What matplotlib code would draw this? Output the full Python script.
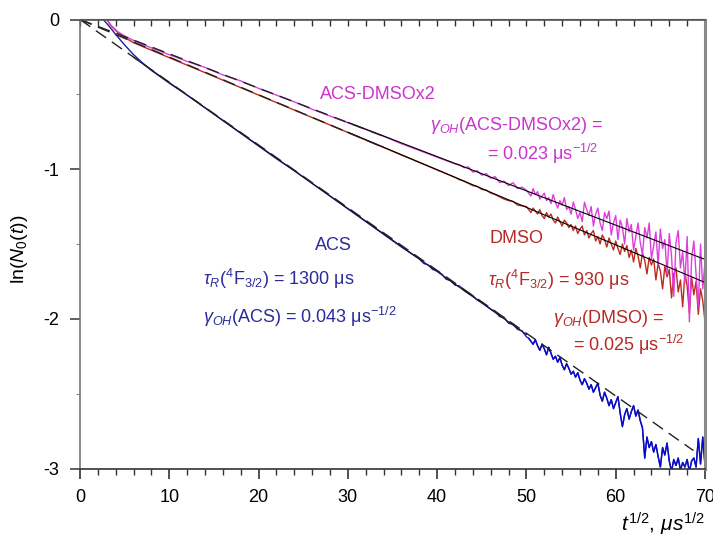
import matplotlib
matplotlib.use('Agg')
import matplotlib.pyplot as plt
import numpy as np
from matplotlib.ticker import MultipleLocator

plt.rcParams['font.family'] = ['Liberation Sans', 'DejaVu Sans']
plt.rcParams['mathtext.fontset'] = 'custom'
plt.rcParams['mathtext.rm'] = 'Liberation Sans'
plt.rcParams['mathtext.it'] = 'Liberation Sans:italic'
plt.rcParams['mathtext.bf'] = 'Liberation Sans:bold'
plt.rcParams['axes.unicode_minus'] = False

# ACS (blue) - smooth part read every few units, then noisy tail
acs_t = [2.6, 3.2, 4.0, 5.0, 6.0, 7.0, 8.0, 10, 12, 14, 16, 18, 20, 22, 24, 26, 28, 30,
         32, 34, 36, 38, 38.5, 39, 39.5, 40, 40.5, 41, 41.5, 42, 42.5, 43, 43.5, 44,
         44.5, 45, 45.5, 46, 46.5, 47, 47.5, 48, 48.5, 49, 49.5, 50]
acs_y = [0.0, -0.04, -0.10, -0.17, -0.235, -0.29, -0.34, -0.425, -0.505, -0.59, -0.675,
         -0.76, -0.845, -0.93, -1.01, -1.095, -1.18, -1.265, -1.35, -1.435, -1.52, -1.60,
         -1.63, -1.64, -1.67, -1.68, -1.70, -1.735, -1.745, -1.775, -1.78, -1.81, -1.83,
         -1.845, -1.875, -1.89, -1.91, -1.935, -1.95, -1.985, -1.99, -2.03, -2.035, -2.07,
         -2.08, -2.12]
acs_tail_start = 50.25
acs_tail_y = [-2.13, -2.15, -2.17, -2.14, -2.18, -2.21, -2.17, -2.20, -2.24, -2.19, -2.23,
              -2.27, -2.25, -2.29, -2.26, -2.31, -2.34, -2.30, -2.33,
              -2.37, -2.35, -2.39, -2.36, -2.41, -2.44, -2.40, -2.43, -2.47, -2.44,
              -2.49, -2.46, -2.43, -2.51, -2.55, -2.49, -2.53, -2.58, -2.54, -2.60,
              -2.56, -2.52, -2.63, -2.72, -2.64, -2.60, -2.67, -2.62, -2.58, -2.65,
              -2.61, -2.68, -2.73, -2.93, -2.79, -2.86, -2.82, -2.89, -2.84, -2.92,
              -2.99, -2.86, -2.91, -2.83, -2.95, -3.02, -2.94, -2.98, -2.93, -3.01,
              -2.96, -2.99, -2.94, -3.02, -2.95, -2.93, -2.99, -2.80, -2.97, -2.79,
              -2.98]

# DMSO (red)
dmso_t = [3.0, 3.5, 4.2, 5.0, 6, 7, 8, 10, 12, 14, 16, 18, 20, 22, 24, 26, 28, 30, 32, 34,
          36, 38, 40, 42, 42.5, 43, 43.5, 44, 44.5, 45, 45.5, 46, 46.5, 47, 47.5, 48, 48.5,
          49, 49.5]
dmso_y = [0.0, -0.045, -0.085, -0.12, -0.155, -0.18, -0.205, -0.255, -0.305, -0.355, -0.405,
          -0.455, -0.505, -0.555, -0.605, -0.655, -0.705, -0.755, -0.805, -0.855, -0.905,
          -0.955, -1.005, -1.055, -1.07, -1.08, -1.095, -1.11, -1.115, -1.135, -1.14, -1.16,
          -1.17, -1.185, -1.20, -1.21, -1.215, -1.24, -1.245]
dmso_tail_start = 50.0
dmso_tail_y = [-1.25, -1.27, -1.29, -1.26, -1.28, -1.30, -1.27, -1.31, -1.33, -1.29,
               -1.32, -1.30, -1.34, -1.36, -1.32, -1.35, -1.38, -1.34, -1.36, -1.39,
               -1.37, -1.41, -1.38, -1.43, -1.40, -1.38, -1.44, -1.41, -1.46, -1.43,
               -1.41, -1.48, -1.45, -1.50, -1.44, -1.47, -1.52, -1.46, -1.50, -1.54,
               -1.48, -1.53, -1.57, -1.50, -1.55, -1.51, -1.59, -1.54, -1.62, -1.53,
               -1.58, -1.66, -1.56, -1.61, -1.70, -1.59, -1.64, -1.60, -1.74, -1.63,
               -1.68, -1.80, -1.65, -1.72, -1.67, -1.86, -1.70, -1.66, -1.82, -1.74,
               -1.92, -1.69, -1.78, -1.96, -1.72, -1.84, -1.75, -1.97, -1.80, -1.88,
               -2.02]

# ACS-DMSOx2 (magenta)
mix_t = [3.0, 3.5, 4.2, 5.0, 6, 7, 8, 10, 12, 14, 16, 18, 20, 22, 24, 26, 28, 30, 32, 34,
         36, 38, 40, 42, 42.5, 43, 43.5, 44, 44.5, 45, 45.5, 46, 46.5, 47, 47.5, 48, 48.5,
         49, 49.5]
mix_y = [0.0, -0.04, -0.08, -0.11, -0.14, -0.165, -0.19, -0.235, -0.28, -0.32, -0.37, -0.41,
         -0.46, -0.505, -0.55, -0.60, -0.645, -0.69, -0.735, -0.78, -0.83, -0.875, -0.92,
         -0.965, -0.97, -0.99, -0.985, -1.02, -1.01, -1.04, -1.03, -1.06, -1.05, -1.09,
         -1.08, -1.11, -1.09, -1.13, -1.12]
mix_tail_start = 50.0
mix_tail_y = [-1.14, -1.16, -1.18, -1.13, -1.17, -1.15, -1.20, -1.18, -1.16, -1.21,
              -1.19, -1.23, -1.17, -1.22, -1.26, -1.21, -1.24, -1.19, -1.27, -1.25,
              -1.30, -1.22, -1.27, -1.33, -1.29, -1.35, -1.22, -1.27, -1.31, -1.25,
              -1.38, -1.30, -1.26, -1.36, -1.41, -1.29, -1.33, -1.28, -1.44, -1.36,
              -1.31, -1.47, -1.34, -1.39, -1.50, -1.33, -1.42, -1.37, -1.54, -1.45,
              -1.36, -1.49, -1.57, -1.39, -1.46, -1.36, -1.60, -1.51, -1.42, -1.64,
              -1.40, -1.53, -1.47, -1.70, -1.43, -1.58, -1.85, -1.49, -1.41, -1.66,
              -1.55, -1.76, -1.45, -2.02, -1.60, -1.48, -1.70, -1.92, -1.50, -1.80,
              -1.62]

# fit lines (end points)
acs_fit_t, acs_fit_y = [6, 50], [-0.253, -2.105]
acs_dash_t, acs_dash_y = [0, 68.7], [0, -2.88]
dmso_dash_t, dmso_dash_y = [0, 34], [0, -0.855]
mix_dash_t, mix_dash_y = [0, 34], [0, -0.78]
dmso_fit_t, dmso_fit_y = [30, 70], [-0.753, -1.757]
mix_fit_t, mix_fit_y = [30, 70], [-0.687, -1.603]

c_acs = '#1f1fa6'
c_acs_tail = '#0a0acc'
c_dmso = '#bf2a1f'
c_mix = '#dd3fdd'
t_acs = '#2b2b9b'
t_dmso = '#b52a25'
t_mix = '#cc33cc'


def tail(start, vals):
    return start + 0.25 * np.arange(len(vals))


fig = plt.figure(figsize=(7.13, 5.38), dpi=100)
ax = fig.add_axes([80 / 713, 69.5 / 538, 625 / 713, 449 / 538])

ax.plot(acs_t + list(tail(acs_tail_start, acs_tail_y)), acs_y + acs_tail_y,
        color=c_acs, lw=1.0)
ax.plot(tail(acs_tail_start, acs_tail_y), acs_tail_y, color=c_acs_tail, lw=1.0)
ax.plot(dmso_t + list(tail(dmso_tail_start, dmso_tail_y)), dmso_y + dmso_tail_y,
        color=c_dmso, lw=1.0)
ax.plot(mix_t + list(tail(mix_tail_start, mix_tail_y)), mix_y + mix_tail_y,
        color=c_mix, lw=1.0)

ax.plot(acs_fit_t, acs_fit_y, color='#111133', lw=0.8)
ax.plot(dmso_fit_t, dmso_fit_y, color='black', lw=0.8)
ax.plot(mix_fit_t, mix_fit_y, color='black', lw=0.8)
for tt, yy in [(acs_dash_t, acs_dash_y), (dmso_dash_t, dmso_dash_y), (mix_dash_t, mix_dash_y)]:
    ax.plot(tt, yy, color='#222222', lw=1.0, dashes=(9, 5))

ax.set_xlim(0, 70)
ax.set_ylim(-3, 0)
ax.xaxis.set_major_locator(MultipleLocator(10))
ax.xaxis.set_minor_locator(MultipleLocator(2))
ax.yaxis.set_major_locator(MultipleLocator(1))
ax.yaxis.set_minor_locator(MultipleLocator(0.5))
ax.tick_params(axis='x', which='major', direction='out', length=7, width=1.2,
               labelsize=13, pad=8, color='#333333')
ax.tick_params(axis='x', which='minor', direction='out', length=4, width=1.0, color='#333333')
ax.tick_params(axis='y', which='major', direction='out', length=7, width=1.2,
               labelsize=13, pad=8, color='#444444')
ax.tick_params(axis='y', which='minor', direction='out', length=3, width=0.8, color='#888888')

top = ax.secondary_xaxis('top')
top.xaxis.set_major_locator(MultipleLocator(10))
top.xaxis.set_minor_locator(MultipleLocator(2))
top.tick_params(which='both', direction='in', length=5, width=1.0, color='#333333')
top.set_xticklabels([])
top.spines['top'].set_color('#555555')

for side, col, lw in [('left', '#777777', 1.2), ('bottom', '#333333', 1.2),
                      ('top', '#555555', 1.2), ('right', '#888888', 2.2)]:
    ax.spines[side].set_color(col)
    ax.spines[side].set_linewidth(lw)

fs = 13
ax.text(26.9, -0.531, 'ACS-DMSOx2', color=t_mix, fontsize=fs)
ax.text(39.2, -0.738, r'$\gamma_{OH}$(ACS-DMSOx2) =', color=t_mix, fontsize=fs)
ax.text(45.6, -0.938, '= 0.023 μs$^{-1/2}$', color=t_mix, fontsize=fs)

ax.text(45.9, -1.491, 'DMSO', color=t_dmso, fontsize=fs)
ax.text(45.7, -1.783, r'$\tau_R$($^4$F$_{3/2}$) = 930 μs', color=t_dmso, fontsize=fs)
ax.text(53.0, -2.025, r'$\gamma_{OH}$(DMSO) =', color=t_dmso, fontsize=fs)
ax.text(55.2, -2.216, '= 0.025 μs$^{-1/2}$', color=t_dmso, fontsize=fs)

ax.text(26.3, -1.538, 'ACS', color=t_acs, fontsize=fs)
ax.text(13.8, -1.771, r'$\tau_R$($^4$F$_{3/2}$) = 1300 μs', color=t_acs, fontsize=fs)
ax.text(13.8, -2.027, r'$\gamma_{OH}$(ACS) = 0.043 μs$^{-1/2}$', color=t_acs, fontsize=fs)

fig.text(19 / 713, 1 - 249 / 538, r'ln($N_0$($t$))', rotation=90, ha='center',
         va='center', fontsize=14)
fig.text(705 / 713, 1 - 524 / 538, r'$t^{1/2}$, $\mu s^{1/2}$', ha='right',
         va='center', fontsize=15)

fig.savefig('out.png', dpi=100)
